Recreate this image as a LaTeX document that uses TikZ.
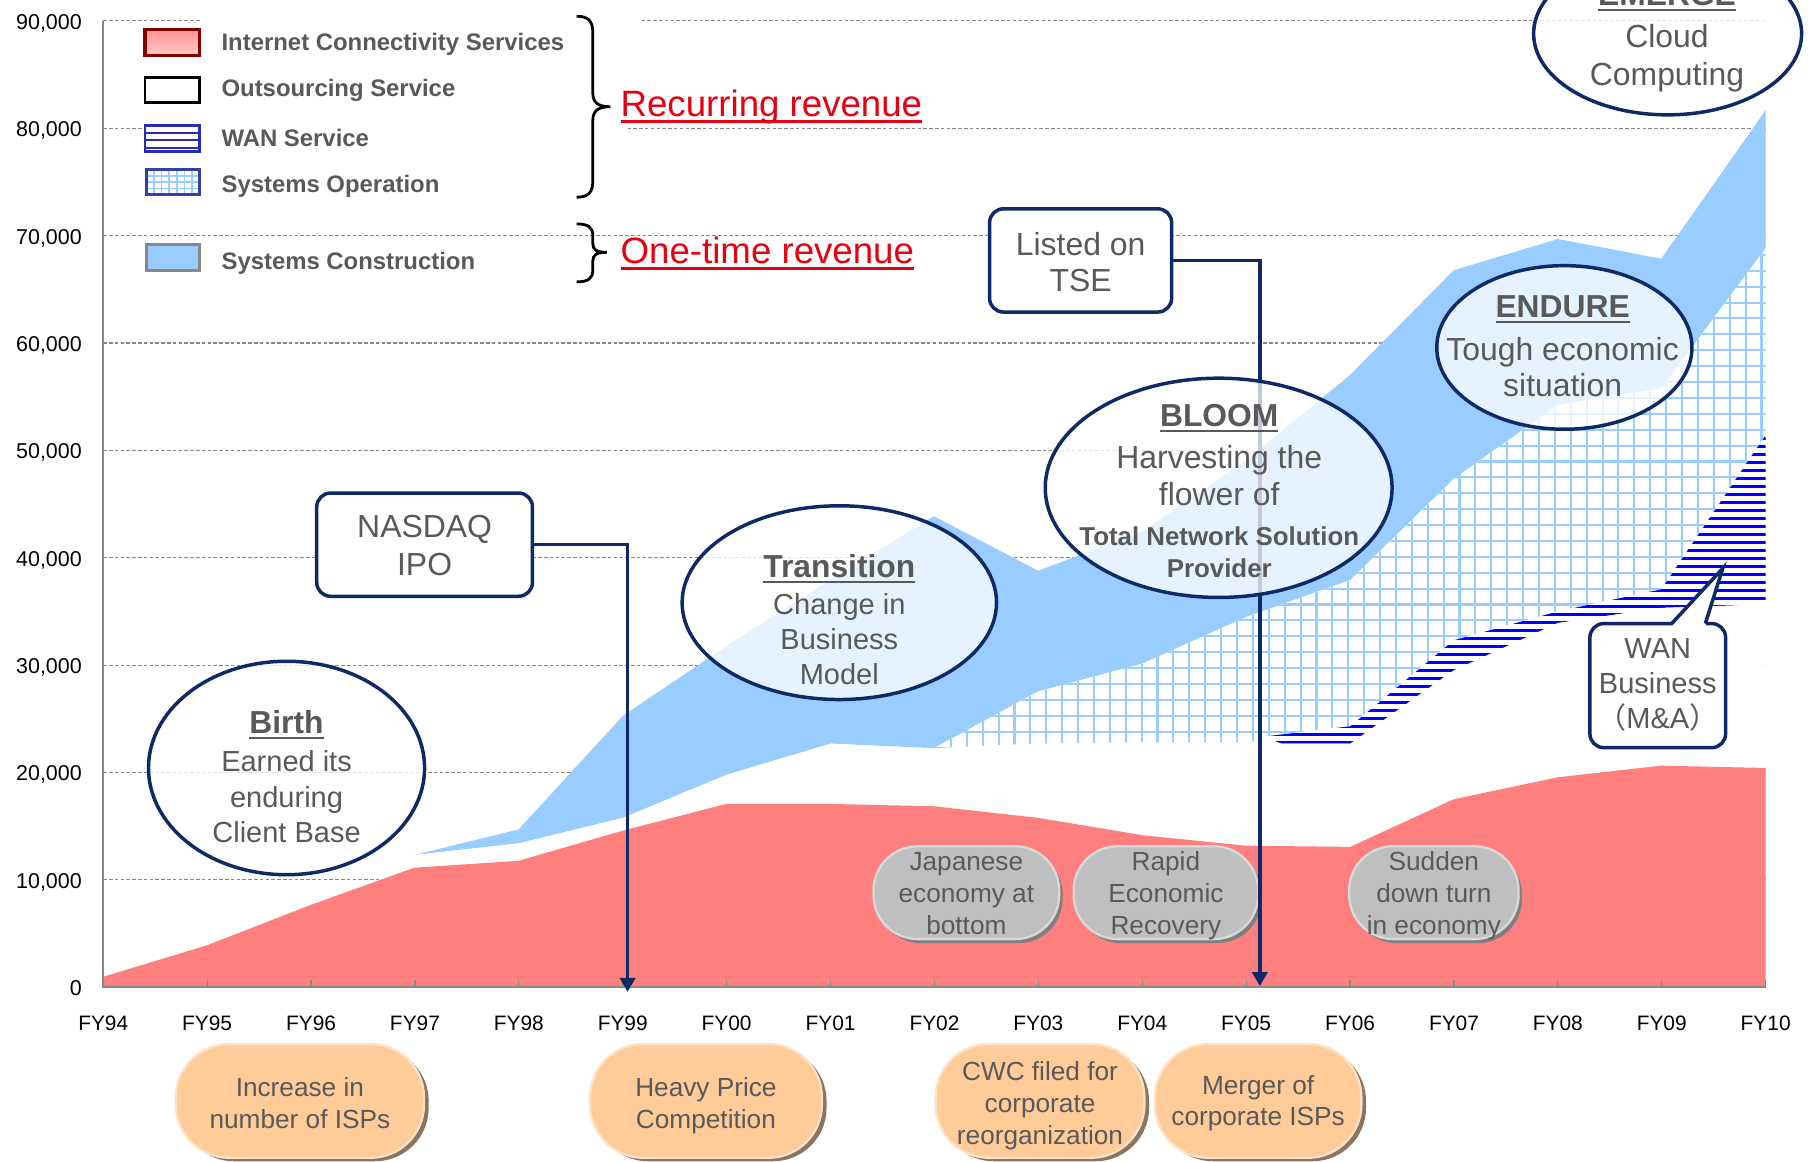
\documentclass[tikz,border=0pt]{standalone}
\usepackage{fontspec}
\setmainfont{Liberation Sans}
\newfontfamily\cjkfont{Noto Sans CJK JP}
\usetikzlibrary{shapes.geometric,arrows.meta,shadows}

\definecolor{navy}{HTML}{0E2A66}
\definecolor{tgray}{HTML}{595959}
\definecolor{redarea}{HTML}{FF7F7F}
\definecolor{bluearea}{HTML}{99CCFF}
\definecolor{gridblue}{HTML}{99CCFF}
\definecolor{stripeblue}{HTML}{0000FF}
\definecolor{revred}{HTML}{E60012}
\definecolor{gboxfill}{HTML}{BFBFBF}
\definecolor{gboxline}{HTML}{D9D9D9}
\definecolor{gshadowc}{HTML}{7F7F7F}
\definecolor{oboxfill}{HTML}{FFCC99}
\definecolor{oboxline}{HTML}{FFE2C6}
\definecolor{oshadowc}{HTML}{8A7560}
\definecolor{axisgray}{HTML}{888888}
\definecolor{legdarkred}{HTML}{800000}
\definecolor{legredtop}{HTML}{FF9494}
\definecolor{legredbot}{HTML}{FFC8C8}
\definecolor{legwan}{HTML}{2A2AB8}
\definecolor{legop}{HTML}{33409F}

\newsavebox\ulbox
\newcommand\myul[2][2pt]{\sbox\ulbox{#2}\rlap{\raisebox{-5pt}{\rule{\wd\ulbox}{#1}}}\usebox\ulbox}

\begin{document}
\begin{tikzpicture}[x=1pt,y=-1pt,
  every node/.style={inner sep=0pt, outer sep=0pt},
  grid line/.style={draw=axisgray, line width=1pt, dash pattern=on 3pt off 2pt},
  axis line/.style={draw=axisgray, line width=1.6pt},
  ylab/.style={anchor=base east, font=\fontsize{18.5}{22}\selectfont, text=black},
  xlab/.style={anchor=base, font=\fontsize{18}{22}\selectfont, text=black},
  legtxt/.style={anchor=base west, font=\fontsize{20.6}{24}\selectfont\bfseries, text=tgray},
  rev/.style={anchor=base west, font=\fontsize{31.6}{36}\selectfont, text=revred},
  phase/.style={ellipse, draw=navy, line width=3pt, fill=white, fill opacity=0.75},
  ttl/.style={anchor=base, font=\fontsize{27.4}{32}\selectfont\bfseries, text=tgray},
  body/.style={anchor=base, font=\fontsize{25}{30}\selectfont, text=tgray},
  bodyL/.style={anchor=base, font=\fontsize{27.5}{32}\selectfont, text=tgray},
  bodyB/.style={anchor=base, font=\fontsize{22.3}{26}\selectfont\bfseries, text=tgray},
  evbox/.style={draw=navy, line width=3pt, rounded corners=12pt, fill=white},
  conn/.style={draw=navy, line width=3pt, -{Triangle[width=13pt,length=12pt]}},
  gbox/.style={rounded corners=38pt, fill=gboxfill, draw=gboxline, line width=2pt,
    drop shadow={shadow xshift=3pt, shadow yshift=-3.5pt, fill=gshadowc, opacity=1}},
  obox/.style={rounded corners=46pt, fill=oboxfill, draw=oboxline, line width=2pt,
    drop shadow={shadow xshift=4pt, shadow yshift=-3pt, fill=oshadowc, opacity=1}},
  btxt/.style={anchor=base, font=\fontsize{22.6}{27}\selectfont, text=tgray},
]
\useasboundingbox (0,0) rectangle (1568,1001);
\fill[white] (0,0) rectangle (1568,1001);

% ---------- gridlines ----------
\foreach \k in {1,...,7} \draw[grid line] (89,{851-\k*92.556}) -- (1522,{851-\k*92.556});
\draw[grid line] (89,110.6) -- (123,110.6);
\draw[grid line] (541,110.6) -- (1522,110.6);
\draw[grid line] (89,18) -- (173,18);
\draw[grid line] (553,18) -- (1522,18);

% ---------- axis labels ----------
\node[ylab] (y0) at (70.5,858.3) {0};
\foreach \k in {1,...,9} \node[ylab] (y\k) at (70.5,{858.3-\k*92.556}) {\k0,000};
\foreach \l [count=\i from 0] in {94,95,96,97,98,99,00,01,02,03,04,05,06,07,08,09,10}
  \node[xlab] (fy\l) at ({89+\i*89.5625},888.5) {FY\l};

% ---------- Systems Construction (blue band) ----------
\fill[bluearea] (357,737) -- (447,715) -- (537,617) -- (626,557) -- (716,500) -- (805,445)
  -- (895,492) -- (985,458) -- (1074,397) -- (1164,323) -- (1253,233) -- (1343,206)
  -- (1432,223) -- (1522,95) -- (1522,214) -- (1432,335) -- (1343,349) -- (1253,413)
  -- (1164,500) -- (1074,532) -- (985,572) -- (895,596) -- (805,645) -- (716,641)
  -- (626,668) -- (537,705) -- (447,727) -- cycle;

% ---------- Systems Operation (grid) ----------
\begin{scope}
  \clip (805,645) -- (895,596) -- (985,572) -- (1074,532) -- (1164,500) -- (1253,413)
    -- (1343,349) -- (1432,335) -- (1522,214) -- (1522,375) -- (1432,508) -- (1343,527)
    -- (1253,552) -- (1164,626) -- (1089,635) -- (1078,640) -- (985,640) -- (895,641) -- cycle;
  \fill[white] (780,200) rectangle (1530,660);
  \foreach \g in {0,...,55} \draw[gridblue, line width=1.8pt] ({806+\g*13.7},200) -- ++(0,460);
  \foreach \g in {0,...,33} \draw[gridblue, line width=1.8pt] (780,{206+\g*13.7}) -- ++(760,0);
\end{scope}

% ---------- WAN Service (stripes) ----------
\begin{scope}
  \clip (1089,635) -- (1164,626) -- (1253,552) -- (1343,527) -- (1432,508) -- (1522,375)
    -- (1522,521) -- (1432,524) -- (1343,537) -- (1253,578) -- (1164,641) -- (1105,641) -- cycle;
  \fill[white] (1070,360) rectangle (1530,650);
  \foreach \s in {0,...,40} \draw[stripeblue, line width=2.7pt] (1070,{371+\s*6.9}) -- ++(460,0);
\end{scope}

% ---------- Outsourcing (white) ----------
\fill[white] (357,737) -- (447,727) -- (537,705) -- (626,668) -- (716,641) -- (805,645)
  -- (895,641) -- (985,640) -- (1078,640) -- (1105,641) -- (1164,641) -- (1253,578) -- (1343,537)
  -- (1432,524) -- (1522,521) -- (1522,662) -- (1432,660) -- (1343,670) -- (1253,689)
  -- (1164,730) -- (1074,729) -- (985,720) -- (895,705) -- (805,695) -- (716,693)
  -- (626,693) -- (537,716) -- (447,742) -- (357,748) -- cycle;

% ---------- Internet Connectivity (red) ----------
\fill[redarea] (89,851) -- (89,842) -- (178,815) -- (268,780) -- (357,748) -- (447,742)
  -- (537,716) -- (626,693) -- (716,693) -- (805,695) -- (895,705) -- (985,720)
  -- (1074,729) -- (1164,730) -- (1253,689) -- (1343,670) -- (1432,660) -- (1522,662)
  -- (1522,851) -- cycle;

% ---------- axes ----------
\draw[axis line] (89,18) -- (89,851) -- (1522,851);
\foreach \i in {1,...,16} \draw[axis line, line width=1pt] ({89+\i*89.5625},851) -- ++(0,-6);

% ---------- legend ----------
\draw[line width=3pt, draw=legdarkred, top color=legredtop, bottom color=legredbot]
  (125,25.5) rectangle (172,48);
\draw[line width=2.5pt, draw=black, fill=white] (125,66.5) rectangle (172,88.5);
\draw[line width=2.5pt, draw=legwan, fill=white] (125,108) rectangle (172,130.5);
\foreach \yy in {114.5,121,127.5} \draw[legwan, line width=1.8pt] (125,\yy) -- (172,\yy);
\begin{scope}
  \fill[white] (126,146) rectangle (172,168);
  \foreach \xx in {1,...,6} \draw[gridblue, line width=1.6pt] ({126+\xx*6.6},146) -- ++(0,22);
  \foreach \yy in {1,...,3} \draw[gridblue, line width=1.6pt] (126,{146+\yy*5.5}) -- ++(46,0);
  \draw[line width=2.5pt, draw=legop] (126,146) rectangle (172,168);
\end{scope}
\draw[line width=2.5pt, draw=axisgray, fill=bluearea] (126,211) rectangle (172,233);

\node[legtxt] (legics) at (191,43.9) {Internet Connectivity Services};
\node[legtxt] (legout) at (191,83.6) {Outsourcing Service};
\node[legtxt] (legwan) at (191,126.4) {WAN Service};
\node[legtxt] (legop) at (191,165.8) {Systems Operation};
\node[legtxt] (legcon) at (191,232) {Systems Construction};

% braces
\draw[line width=2.4pt] (497,14) .. controls (507,14) and (511,18) .. (511,28) -- (511,80)
  .. controls (511,88) and (515,92) .. (526,92) .. controls (515,92) and (511,96) .. (511,104)
  -- (511,156) .. controls (511,166) and (507,170) .. (497,170);
\draw[line width=2.4pt] (497,193) .. controls (507,193) and (511,196) .. (511,203) -- (511,210)
  .. controls (511,215) and (514,217.5) .. (523,217.5) .. controls (514,217.5) and (511,220) .. (511,225)
  -- (511,233) .. controls (511,240) and (507,243) .. (497,243);

\node[rev] (recur) at (535,100.6) {\myul[2.4pt]{Recurring revenue}};
\node[rev] (onetime) at (535,227.5) {\myul[2.4pt]{One-time revenue}};

% ---------- gray event boxes ----------
\node[gbox, minimum width=160pt, minimum height=80pt] (jpn) at (833,769.5) {};
\node[gbox, minimum width=159pt, minimum height=80pt] (rapid) at (1005,769.5) {};
\node[gbox, minimum width=146pt, minimum height=80pt] (sudden) at (1236,769.5) {};
\foreach \t [count=\i] in {Japanese,economy at,bottom}
  \node[btxt] (jpnL\i) at (833,{750.5+(\i-1)*27.5}) {\t};
\foreach \t [count=\i] in {Rapid,Economic,Recovery}
  \node[btxt] (rapidL\i) at (1005,{750.5+(\i-1)*27.5}) {\t};
\foreach \t [count=\i] in {Sudden,down turn,in economy}
  \node[btxt] (suddenL\i) at (1236,{750.5+(\i-1)*27.5}) {\t};

% ---------- orange event boxes ----------
\node[obox, minimum width=214pt, minimum height=98pt] (isp) at (258.5,949) {};
\node[obox, minimum width=200pt, minimum height=98pt] (price) at (608.5,949) {};
\node[obox, minimum width=180pt, minimum height=98pt] (cwc) at (896.5,949) {};
\node[obox, minimum width=178pt, minimum height=98pt] (merger) at (1084.5,949) {};
\foreach \t [count=\i] in {Increase in,number of ISPs}
  \node[btxt] (ispL\i) at (258.5,{945.5+(\i-1)*27}) {\t};
\foreach \t [count=\i] in {Heavy Price,Competition}
  \node[btxt] (priceL\i) at (608.5,{945.5+(\i-1)*27}) {\t};
\foreach \t [count=\i] in {CWC filed for,corporate,reorganization}
  \node[btxt] (cwcL\i) at (896.5,{931.5+(\i-1)*27.5}) {\t};
\foreach \t [count=\i] in {Merger of,corporate ISPs}
  \node[btxt] (mergerL\i) at (1084.5,{943.5+(\i-1)*27}) {\t};

% ---------- milestone boxes and connectors ----------
\node[evbox, minimum width=186pt, minimum height=89pt] (nasdaq) at (366,469.5) {};
\node[evbox, minimum width=157pt, minimum height=89pt] (tse) at (931.5,224.5) {};
\coordinate (ipotip) at (541,855);
\coordinate (tsetip) at (1086,850);
\draw[conn] (nasdaq.east) -| (ipotip);
\draw[conn] (tse.east) -| (tsetip);
\node[bodyL] (nasdaqL1) at (366,463.3) {NASDAQ};
\node[bodyL] (nasdaqL2) at (366,496.3) {IPO};
\node[bodyL] (tseL1) at (931.5,220.5) {Listed on};
\node[bodyL] (tseL2) at (931.5,251) {TSE};

% ---------- phase ellipses ----------
\node[phase, minimum width=238pt, minimum height=184pt] (birth) at (247,662) {};
\node[phase, minimum width=271pt, minimum height=167pt] (transition) at (723.5,519.5) {};
\node[phase, minimum width=299pt, minimum height=189pt] (bloom) at (1050.5,420.5) {};
\node[phase, minimum width=220pt, minimum height=141pt] (endure) at (1348.5,299.5) {};
\node[phase, minimum width=231pt, minimum height=140pt] (emerge) at (1437.5,29) {};

\node[ttl] (birthH) at (247,632.4) {\myul{Birth}};
\foreach \t [count=\i] in {Earned its,enduring,Client Base}
  \node[body] (birthL\i) at (247,{665.3+(\i-1)*30.5}) {\t};

\node[ttl] (transH) at (723.5,497.8) {\myul{Transition}};
\foreach \t [count=\i] in {Change in,Business,Model}
  \node[body] (transL\i) at (723.5,{529.3+(\i-1)*30.3}) {\t};

\node[ttl] (bloomH) at (1051,367.6) {\myul{BLOOM}};
\node[bodyL] (bloomL1) at (1051,404) {Harvesting the};
\node[bodyL] (bloomL2) at (1051,435.7) {flower of};
\node[bodyB] (bloomL3) at (1051,470.5) {Total Network Solution};
\node[bodyB] (bloomL4) at (1051,498) {Provider};

\node[ttl] (endureH) at (1347,273.7) {\myul{ENDURE}};
\node[bodyL] (endureL1) at (1347,311) {Tough economic};
\node[bodyL] (endureL2) at (1347,342) {situation};

\node[ttl] (emergeH) at (1437,4.6) {\myul{EMERGE}};
\node[bodyL] (emergeL1) at (1437,41) {Cloud};
\node[bodyL] (emergeL2) at (1437,74) {Computing};

% ---------- WAN callout ----------
\node[evbox, minimum width=117pt, minimum height=107pt] (wanbox) at (1429,591) {};
\coordinate (wantip) at (1485,490);
\fill[white] (1441,540) -- (wantip) -- (1470,540) -- cycle;
\draw[navy, line width=3pt, line join=miter] (1441,537.5) -- (wantip) -- (1470,537.5);
\node[body] (wanL1) at (1429,568) {WAN};
\node[body] (wanL2) at (1429,598) {Business};
\node[body] (wanL3) at (1429,628) {{\cjkfont （}M\&A{\cjkfont ）}};

\end{tikzpicture}
\end{document}
